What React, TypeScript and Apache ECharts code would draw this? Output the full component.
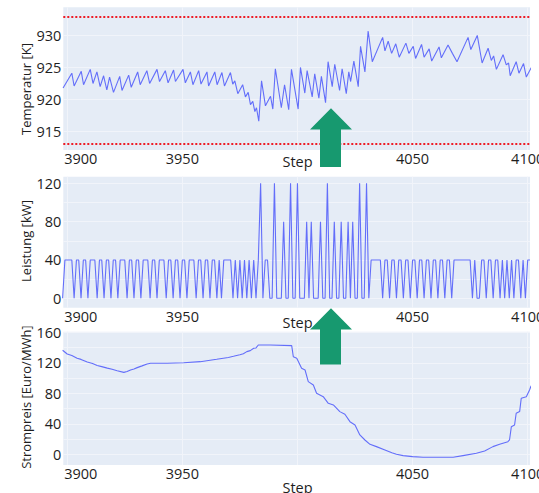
import React, { useEffect, useRef } from "react";
import * as echarts from "echarts";

// ---------- data ----------
const xMin = 3898.3;
const xMax = 4101;
const xTickValues = [3900, 3950, 4000, 4050, 4100];
const xLabelValues = [3900, 3950, 4050, 4100];
const xTitle = "Step";

const tempTitle = "Temperatur [K]";
const tempRange = [912.1, 934.4];
const tempTicks = [915, 920, 925, 930];
const tempLimits = [913, 933];
const tempSteps = [
  3898.2, 3902.0, 3903.0, 3906.1, 3907.1, 3910.0, 3911.2, 3912.9, 3914.3, 3915.8,
  3917.2, 3918.4, 3920.1, 3922.8, 3923.8, 3926.7, 3927.8, 3930.6, 3931.7, 3934.6,
  3935.8, 3939.0, 3940.1, 3942.6, 3943.8, 3946.2, 3947.0, 3950.3, 3951.3, 3953.5,
  3954.6, 3957.1, 3958.1, 3960.7, 3961.4, 3964.1, 3965.1, 3967.2, 3968.3, 3970.9,
  3971.9, 3972.8, 3974.1, 3976.2, 3977.4, 3978.6, 3979.6, 3980.6, 3981.5, 3982.2,
  3983.2, 3984.4, 3986.1, 3988.3, 3989.3, 3990.4, 3993.0, 3994.4, 3996.2, 3997.4,
  4000.3, 4001.3, 4003.2, 4004.2, 4006.4, 4007.5, 4009.3, 4010.4, 4012.2, 4013.3,
  4015.1, 4016.2, 4018.3, 4019.4, 4021.2, 4022.3, 4023.1, 4024.5, 4026.4, 4027.4,
  4029.3, 4030.7, 4032.5, 4037.0, 4038.0, 4039.4, 4040.9, 4042.7, 4044.2, 4047.1,
  4048.4, 4050.3, 4051.3, 4053.9, 4055.0, 4057.2, 4058.3, 4061.5, 4062.5, 4065.4,
  4067.3, 4069.3, 4074.1, 4075.3, 4078.1, 4080.2, 4082.8, 4084.2, 4085.2, 4086.4,
  4089.3, 4090.7, 4091.7, 4092.4, 4095.0, 4096.2, 4098.2, 4099.4, 4101.6,
];
const tempValues = [
  921.8, 924.1, 922.1, 924.4, 922.3, 924.7, 922.5, 924.3, 922.0, 923.7,
  921.5, 923.5, 921.1, 923.6, 921.4, 923.8, 921.9, 924.3, 922.3, 924.5,
  922.5, 924.7, 922.8, 924.5, 922.6, 924.6, 922.8, 924.7, 922.6, 924.3,
  922.3, 924.5, 922.4, 924.3, 922.1, 924.3, 922.3, 924.2, 922.1, 924.2,
  922.4, 922.9, 920.9, 922.3, 920.4, 921.1, 919.2, 919.7, 918.1, 918.7,
  916.6, 922.9, 919.0, 920.5, 918.5, 924.8, 918.7, 922.3, 918.4, 924.7,
  918.5, 925.0, 921.0, 924.5, 920.4, 924.0, 920.2, 923.6, 919.5, 925.9,
  922.0, 925.5, 921.4, 924.8, 920.9, 924.3, 922.8, 926.0, 922.0, 928.3,
  924.3, 930.7, 925.9, 929.7, 927.6, 929.1, 927.2, 928.7, 926.6, 928.8,
  927.2, 928.3, 926.4, 928.6, 926.6, 927.9, 926.0, 928.2, 926.5, 928.5,
  927.2, 925.9, 929.7, 927.8, 930.0, 925.7, 928.0, 926.1, 926.8, 924.7,
  927.0, 925.4, 925.7, 923.7, 925.9, 924.1, 925.6, 923.5, 925.0,
];

const powerTitle = "Leistung [kW]";
const powerRange = [-9.8, 126.9];
const powerTicks = [0, 40, 80, 120];
const powerGridValues = [0, 20, 40, 60, 80, 100, 120];
const powerFirstStep = 3898;
const powerValues = [
  0, 40, 40, 40, 40, 0, 40, 40, 0, 40, // 3898
  40, 0, 40, 40, 40, 0, 40, 40, 0, 40, // 3908
  40, 0, 40, 40, 0, 40, 40, 40, 0, 40, // 3918
  40, 0, 40, 40, 0, 40, 40, 40, 0, 40, // 3928
  40, 0, 40, 40, 40, 0, 40, 40, 0, 40, // 3938
  40, 0, 40, 40, 0, 40, 40, 40, 0, 40, // 3948
  40, 0, 40, 40, 0, 40, 40, 0, 40, 0, // 3958
  40, 40, 40, 40, 0, 40, 0, 40, 0, 40, // 3968
  0, 40, 0, 40, 0, 40, 120, 0, 40, 40, // 3978
  0, 0, 120, 0, 0, 0, 80, 0, 0, 120, // 3988
  0, 0, 120, 0, 0, 0, 80, 0, 80, 0, // 3998
  0, 0, 80, 0, 0, 120, 0, 0, 80, 0, // 4008
  0, 80, 0, 0, 80, 0, 80, 0, 0, 120, // 4018
  0, 0, 120, 0, 40, 40, 40, 40, 40, 0, // 4028
  40, 40, 0, 40, 40, 0, 40, 40, 0, 40, // 4038
  40, 0, 40, 40, 0, 40, 40, 0, 40, 40, // 4048
  0, 40, 40, 0, 40, 40, 0, 40, 40, 0, // 4058
  40, 40, 40, 40, 40, 40, 40, 40, 0, 40, // 4068
  0, 0, 40, 40, 0, 40, 40, 0, 40, 40, // 4078
  0, 40, 0, 40, 0, 40, 0, 40, 40, 0, // 4088
  40, 0, 40, 40, // 4098
];

const priceTitle = "Strompreis [Euro/MWh]";
const priceRange = [-14, 160.8];
const priceTicks = [0, 40, 80, 120, 160];
const priceGridValues = [0, 20, 40, 60, 80, 100, 120, 140, 160];
const priceSteps = [
  3898, 3900, 3902, 3904.3, 3906, 3908.7, 3911, 3913, 3915, 3917.4,
  3919.5, 3921.7, 3924.6, 3926, 3927.5, 3929, 3930.4, 3932.5, 3934.7, 3936.2,
  3943.4, 3950.6, 3957.8, 3964.9, 3970, 3972.2, 3975, 3976.5, 3978, 3979.5,
  3981, 3982, 3983, 3988.1, 3997.5, 3998.2, 3999.7, 4001.8, 4003.3, 4004.7,
  4006.9, 4008.3, 4011.2, 4013.4, 4015.6, 4018.4, 4020.6, 4022.8, 4025, 4027.1,
  4029.3, 4031.5, 4034.3, 4038, 4041, 4043, 4045.9, 4050, 4054.6, 4067.6,
  4071.9, 4077.7, 4081.3, 4084.9, 4087.8, 4091.4, 4092.1, 4092.9, 4094.3, 4095,
  4096.5, 4097.2, 4099.4, 4100.8, 4101.5,
];
const priceValues = [
  136.5, 131.5, 129.5, 126, 124.5, 121, 119, 116.5, 115, 113,
  111.5, 109.5, 107.5, 108.5, 110.6, 112, 113.7, 116, 118.5, 119.5,
  119.5, 120, 121.5, 124.6, 127, 128.5, 130.5, 132, 134.7, 136,
  139, 139.5, 143.4, 143.4, 142.5, 128, 126, 112.8, 110.6, 95.3,
  90.9, 80, 75.6, 66.9, 64.7, 56, 52.5, 42.8, 38.5, 25.4,
  18.8, 13.1, 10.1, 5.7, 2, 0, -1.7, -3, -3.9, -3.9,
  -1.7, 1.3, 4.4, 10.1, 13.1, 16.6, 18.8, 36.3, 38.5, 53.8,
  56, 73.5, 75.6, 84.4, 90,
];

// ---------- styling ----------
const FONT = "'Open Sans', 'DejaVu Sans', sans-serif";
const TEXT = "#1e1e1e";
const LINE = "#636efa";
const PLOT_BG = "#e5ecf6";
const GRID_LINE = "#f1f4fa";
const ARROW = "#17996f";
const TICK_FS = 14.5;

const gridBoxes = [
  { left: 63.3, top: 7.3, width: 466.7, height: 142.7 },
  { left: 63.3, top: 176.7, width: 466.7, height: 131 },
  { left: 63.3, top: 331.7, width: 466.7, height: 133.3 },
];

function buildOption() {
  const grid = gridBoxes.map((g) => ({
    ...g,
    show: true,
    backgroundColor: PLOT_BG,
    borderWidth: 0,
    containLabel: false,
    outerBoundsMode: "none",
  }));

  const xAxis = gridBoxes.map((_, i) => ({
    type: "value",
    gridIndex: i,
    min: xMin,
    max: xMax,
    splitNumber: 4,
    axisLine: { show: false },
    axisTick: { show: false, customValues: xTickValues },
    axisLabel: {
      customValues: xLabelValues,
      fontSize: TICK_FS,
      fontFamily: FONT,
      color: TEXT,
      margin: 1,
      formatter: (v: number) => (v === xLabelValues[0] ? `{first|${v}}` : `${v}`),
      rich: {
        first: { padding: [0, 0, 0, 27], fontSize: TICK_FS, fontFamily: FONT, color: TEXT },
      },
    },
    splitLine: { show: true, lineStyle: { color: GRID_LINE, width: 1 } },
  }));

  const yDefs = [
    { range: tempRange, ticks: tempTicks, gridVals: tempTicks, split: 5 },
    { range: powerRange, ticks: powerTicks, gridVals: powerGridValues, split: 8 },
    { range: priceRange, ticks: priceTicks, gridVals: priceGridValues, split: 8 },
  ];
  const yAxis = yDefs.map((d, i) => ({
    type: "value",
    gridIndex: i,
    min: d.range[0],
    max: d.range[1],
    splitNumber: d.split,
    axisLine: { show: false },
    axisTick: { show: false, customValues: d.gridVals },
    axisLabel: {
      customValues: d.ticks,
      fontSize: TICK_FS,
      fontFamily: FONT,
      color: TEXT,
      margin: 2,
    },
    splitLine: { show: true, lineStyle: { color: GRID_LINE, width: 1 } },
  }));

  const lineBase = {
    type: "line",
    showSymbol: false,
    symbol: "none",
    clip: true,
    lineStyle: { color: LINE, width: 1.1 },
    itemStyle: { color: LINE },
    emphasis: { disabled: true },
    z: 3,
  };

  const series = [
    {
      ...lineBase,
      xAxisIndex: 0,
      yAxisIndex: 0,
      data: tempSteps.map((s, i) => [s, tempValues[i]]),
      markLine: {
        silent: true,
        symbol: ["none", "none"],
        label: { show: false },
        emphasis: { disabled: true },
        lineStyle: { color: "#ee1c25", type: [2, 2], width: 2 },
        data: tempLimits.map((v) => ({ yAxis: v })),
      },
    },
    {
      ...lineBase,
      xAxisIndex: 1,
      yAxisIndex: 1,
      data: powerValues.map((v, i) => [powerFirstStep + i, v]),
    },
    {
      ...lineBase,
      xAxisIndex: 2,
      yAxisIndex: 2,
      data: priceSteps.map((s, i) => [s, priceValues[i]]),
    },
  ];

  const titleStyle = { fontSize: 13, fontFamily: FONT, fill: TEXT, align: "center", verticalAlign: "middle" };
  const stepStyle = { fontSize: TICK_FS, fontFamily: FONT, fill: TEXT, align: "center", verticalAlign: "middle" };

  const graphic = [
    { type: "text", x: 26, y: 89, rotation: Math.PI / 2, style: { ...titleStyle, text: tempTitle }, z: 50 },
    { type: "text", x: 26, y: 241, rotation: Math.PI / 2, style: { ...titleStyle, text: powerTitle }, z: 50 },
    { type: "text", x: 26, y: 397, rotation: Math.PI / 2, style: { ...titleStyle, text: priceTitle }, z: 50 },
    { type: "rect", shape: { x: 12, y: 300, width: 30, height: 26.5 }, style: { fill: "#ffffff" }, z: 60 },
    { type: "text", x: 297.5, y: 161, style: { ...stepStyle, text: xTitle }, z: 50 },
    { type: "text", x: 297.5, y: 322, style: { ...stepStyle, text: xTitle }, z: 50 },
    { type: "text", x: 297.5, y: 487.5, style: { ...stepStyle, text: xTitle }, z: 50 },
    {
      type: "polygon",
      shape: {
        points: [
          [310, 129.5], [331, 108.3], [352, 129.5], [341, 129.5], [341, 167], [320, 167], [320, 129.5],
        ],
      },
      style: { fill: ARROW },
      z: 100,
    },
    {
      type: "polygon",
      shape: {
        points: [
          [310, 329.5], [331, 308.3], [352, 329.5], [341, 329.5], [341, 364.5], [320, 364.5], [320, 329.5],
        ],
      },
      style: { fill: ARROW },
      z: 100,
    },
  ];

  return {
    animation: false,
    backgroundColor: "#ffffff",
    textStyle: { fontFamily: FONT },
    grid,
    xAxis,
    yAxis,
    series,
    graphic,
  };
}

export default function App() {
  const ref = useRef<HTMLDivElement>(null);
  useEffect(() => {
    if (!ref.current) return;
    const chart = echarts.init(ref.current, null, { renderer: "svg" });
    chart.setOption(buildOption() as any);
    return () => chart.dispose();
  }, []);
  return (
    <div
      ref={ref}
      style={{ position: "fixed", left: 0, top: 0, width: 539, height: 493, background: "#ffffff" }}
    />
  );
}
